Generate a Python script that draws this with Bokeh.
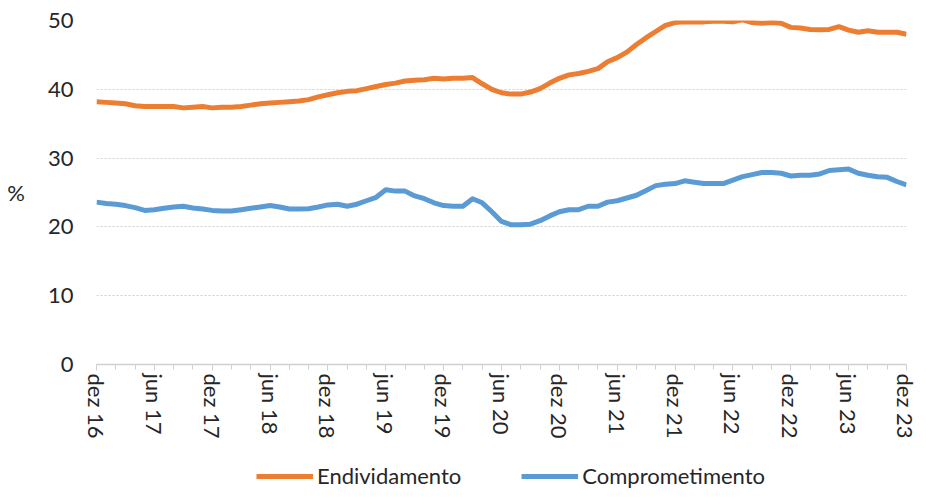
from bokeh.plotting import figure
from bokeh.layouts import column
from bokeh.models import Range1d, FixedTicker, Legend, LegendItem
from bokeh.embed import file_html
from bokeh.resources import INLINE

# Monthly data, dez/2016 .. dez/2023 (85 months)
endividamento = [
    38.2, 38.1, 38.0, 37.9, 37.6, 37.5, 37.5, 37.5, 37.5, 37.3, 37.4, 37.5,
    37.3, 37.4, 37.4, 37.5, 37.7, 37.9, 38.0, 38.1, 38.2, 38.3, 38.5, 38.9,
    39.2, 39.5, 39.7, 39.8, 40.1, 40.4, 40.7, 40.9, 41.2, 41.3, 41.4, 41.6,
    41.5, 41.6, 41.6, 41.7, 40.8, 40.0, 39.5, 39.3, 39.3, 39.6, 40.1, 40.9,
    41.6, 42.1, 42.3, 42.6, 43.0, 44.0, 44.6, 45.4, 46.5, 47.5, 48.4, 49.3,
    49.7, 49.8, 49.8, 49.8, 49.9, 49.9, 49.8, 50.1, 49.7, 49.6, 49.7, 49.6,
    49.0, 48.9, 48.7, 48.65, 48.7, 49.1, 48.6, 48.3, 48.5, 48.3, 48.3, 48.3,
    48.0,
]
comprometimento = [
    23.6, 23.4, 23.3, 23.1, 22.8, 22.4, 22.5, 22.7, 22.9, 23.0, 22.75, 22.6,
    22.4, 22.3, 22.3, 22.5, 22.7, 22.9, 23.1, 22.9, 22.6, 22.6, 22.65, 22.9,
    23.2, 23.3, 23.0, 23.3, 23.8, 24.3, 25.4, 25.2, 25.2, 24.5, 24.1, 23.5,
    23.1, 23.0, 23.0, 24.1, 23.5, 22.2, 20.8, 20.3, 20.3, 20.4, 20.9, 21.6,
    22.2, 22.5, 22.5, 23.0, 23.0, 23.6, 23.8, 24.2, 24.6, 25.3, 26.0, 26.2,
    26.3, 26.7, 26.5, 26.3, 26.3, 26.3, 26.8, 27.3, 27.6, 27.9, 27.9, 27.8,
    27.4, 27.5, 27.5, 27.7, 28.2, 28.3, 28.4, 27.8, 27.5, 27.3, 27.2, 26.6,
    26.1,
]
tick_labels = ["dez 16", "jun 17", "dez 17", "jun 18", "dez 18", "jun 19", "dez 19",
               "jun 20", "dez 20", "jun 21", "dez 21", "jun 22", "dez 22", "jun 23", "dez 23"]
y_ticks = [0, 10, 20, 30, 40, 50]
series_names = ["Endividamento", "Comprometimento"]
series_colors = ["#ED7D31", "#5B9BD5"]
y_title = "%"

FONT = "Lato"
TXT = "#262626"
n = len(endividamento)
x = list(range(n))
series_values = [endividamento, comprometimento]

p = figure(width=918, height=452, output_backend="svg", toolbar_location=None,
           x_range=Range1d(0, n - 1), y_range=Range1d(0, 50),
           min_border_left=96, min_border_right=12, min_border_top=20, min_border_bottom=88)
p.outline_line_color = None
p.xgrid.visible = False
p.ygrid.ticker = FixedTicker(ticks=[t for t in y_ticks if t > 0])
p.ygrid.grid_line_color = "#cfcfcf"
p.ygrid.grid_line_dash = "2 2"
p.ygrid.grid_line_width = 1

# y axis
ya = p.yaxis[0]
ya.ticker = FixedTicker(ticks=y_ticks)
ya.axis_line_color = None
ya.major_tick_line_color = None
ya.minor_tick_line_color = None
ya.major_tick_out = 0
ya.major_tick_in = 0
ya.minor_tick_out = 0
ya.minor_tick_in = 0
ya.major_label_standoff = 23
ya.major_label_text_font = FONT
ya.major_label_text_font_size = "22px"
ya.major_label_text_color = TXT
ya.axis_label = y_title
ya.axis_label_text_font = FONT
ya.axis_label_text_font_size = "22px"
ya.axis_label_text_font_style = "normal"
ya.axis_label_text_color = TXT
ya.axis_label_standoff = 20
if "axis_label_orientation" in ya.properties():
    ya.axis_label_orientation = "horizontal"

# x axis
xa = p.xaxis[0]
major = [6 * k for k in range(len(tick_labels))]
xa.ticker = FixedTicker(ticks=major, minor_ticks=list(range(0, n, 2)))
xa.major_label_overrides = {m: lab for m, lab in zip(major, tick_labels)}
xa.major_label_orientation = "vertical"
xa.axis_line_color = "#d0d0d0"
xa.axis_line_width = 1.5
xa.major_tick_line_color = "#d0d0d0"
xa.minor_tick_line_color = "#d0d0d0"
xa.major_tick_out = 6
xa.major_tick_in = 0
xa.minor_tick_out = 5
xa.minor_tick_in = 0
xa.major_label_standoff = 3
xa.major_label_text_font = FONT
xa.major_label_text_font_size = "22px"
xa.major_label_text_color = TXT

for vals, col in zip(series_values, series_colors):
    p.line(x, vals, line_color=col, line_width=5, line_join="round")

# legend strip below the chart (its lines lie outside its own ranges, so only the legend shows)
pl = figure(width=918, height=37, output_backend="svg", toolbar_location=None,
            x_range=Range1d(-2, -1), y_range=Range1d(-2, -1),
            min_border_left=96, min_border_right=12, min_border_top=0, min_border_bottom=0)
pl.axis.visible = False
pl.grid.visible = False
pl.outline_line_color = None
items = []
for name, vals, col in zip(series_names, series_values, series_colors):
    rr = pl.line(x, vals, line_color=col, line_width=5)
    items.append(LegendItem(label=name, renderers=[rr]))
legend = Legend(items=items, orientation="horizontal", location=(160, 0),
                glyph_width=57, glyph_height=24, label_height=24, label_standoff=4, spacing=60,
                padding=0, margin=0, border_line_color=None, background_fill_alpha=0,
                label_text_font=FONT, label_text_font_size="22px", label_text_color=TXT,
                label_text_baseline="middle")
pl.add_layout(legend, "center")

layout = column(p, pl, spacing=0)
open("out.html", "w").write(file_html(layout, INLINE))
